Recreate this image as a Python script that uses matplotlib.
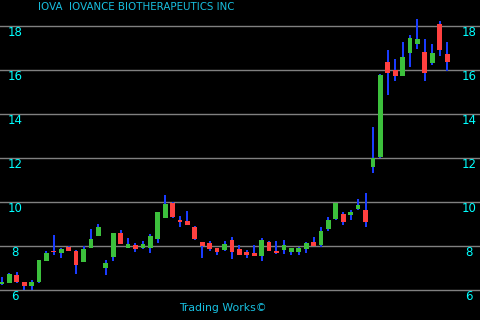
import matplotlib
matplotlib.use("Agg")
import matplotlib.pyplot as plt
import matplotlib.transforms as mtransforms
import numpy as np

title = "IOVA  IOVANCE BIOTHERAPEUTICS INC"
footer = "Trading Works©"
y_ticks = [6, 8, 10, 12, 14, 16, 18]

opens  = [6.26, 6.33, 6.68, 6.36, 6.20, 6.36, 7.32, 7.77, 7.68, 7.95,
          7.77, 7.27, 7.92, 8.47, 7.00, 7.50, 8.59, 7.91, 8.05, 7.91,
          7.92, 8.33, 9.29, 9.95, 9.18, 9.14, 8.86, 8.18, 8.14, 7.91,
          7.82, 8.27, 7.86, 7.73, 7.68, 7.56, 8.18, 7.77, 7.83, 7.74,
          7.74, 7.88, 8.18, 8.05, 8.77, 9.23, 9.45, 9.41, 9.68, 9.64,
          11.61, 12.06, 16.36, 16.00, 15.74, 16.79, 17.20, 16.82, 16.33, 18.09,
          16.73]
highs  = [6.57, 6.76, 6.82, 6.38, 6.45, 7.38, 7.77, 8.50, 7.92, 8.00,
          7.80, 8.00, 8.77, 9.00, 7.36, 8.61, 8.73, 8.36, 8.14, 8.23,
          8.55, 9.56, 10.32, 10.00, 9.36, 9.59, 8.91, 8.20, 8.23, 7.93,
          8.23, 8.39, 8.05, 7.82, 8.05, 8.36, 8.23, 8.23, 8.27, 7.93,
          7.95, 8.18, 8.41, 8.86, 9.32, 9.97, 9.55, 9.64, 10.14, 10.41,
          13.40, 15.80, 16.91, 16.50, 17.27, 17.59, 18.32, 17.41, 17.18, 18.23,
          17.27]
lows   = [6.23, 6.30, 6.33, 5.99, 6.00, 6.34, 7.30, 7.59, 7.45, 7.77,
          6.73, 7.25, 7.90, 8.45, 6.70, 7.32, 8.07, 7.89, 7.73, 7.86,
          7.70, 8.15, 9.27, 9.28, 8.88, 8.95, 8.27, 7.47, 7.77, 7.60,
          7.78, 7.41, 7.59, 7.47, 7.55, 7.33, 7.77, 7.65, 7.65, 7.60,
          7.60, 7.70, 7.98, 7.97, 8.68, 9.20, 8.95, 9.18, 9.64, 8.86,
          11.33, 12.00, 14.86, 15.50, 15.72, 16.14, 16.97, 15.52, 16.23, 16.64,
          15.95]
closes = [6.35, 6.73, 6.36, 6.20, 6.36, 7.36, 7.70, 7.74, 7.86, 7.79,
          7.14, 7.86, 8.32, 8.86, 7.23, 8.59, 8.09, 8.09, 7.86, 8.09,
          8.45, 9.55, 9.91, 9.33, 9.10, 8.97, 8.32, 8.00, 7.86, 7.73,
          8.09, 7.74, 7.61, 7.61, 7.56, 8.27, 7.79, 7.68, 8.05, 7.91,
          7.91, 8.14, 8.00, 8.68, 9.18, 9.95, 9.09, 9.55, 9.86, 9.09,
          11.99, 15.77, 15.88, 15.74, 16.59, 17.45, 17.41, 15.88, 16.77, 16.91,
          16.38]

bg = "#000000"
up_col = "#3cc03c"
down_col = "#ff4040"
wick_col = "#1a3cff"
grid_col = "#808080"
label_col = "#00ffff"
title_col = "#18c0e0"

fig = plt.figure(figsize=(4.8, 3.2), dpi=100, facecolor=bg)
ax = fig.add_axes([0, 0, 1, 1])
ax.set_facecolor(bg)
for s in ax.spines.values():
    s.set_visible(False)
ax.set_xticks([])
ax.set_yticks([])

n = len(opens)
x = np.arange(n)
ax.set_xlim(-0.256, 64.43)
ax.set_ylim(4.636, 19.18)

for yv in y_ticks:
    ax.axhline(yv, color=grid_col, lw=1.0, zorder=1)

o = np.array(opens); c = np.array(closes); h = np.array(highs); l = np.array(lows)
ax.vlines(x, l, h, color=wick_col, lw=1.1, zorder=2, antialiased=False)
up = c >= o
bw = 0.64
ax.bar(x[up], (c - o)[up], bottom=o[up], width=bw, color=up_col, zorder=3,
       linewidth=0, antialiased=False)
ax.bar(x[~up], (o - c)[~up], bottom=c[~up], width=bw, color=down_col, zorder=3,
       linewidth=0, antialiased=False)

off = mtransforms.offset_copy(ax.transData, fig=fig, x=0, y=-7, units='dots')
tl = mtransforms.blended_transform_factory(ax.transAxes, off)
for yv in y_ticks:
    ax.text(15 / 480, yv, str(yv), transform=tl, ha='center', va='center',
            color=label_col, fontsize=8.5, family='DejaVu Sans')
    ax.text(469 / 480, yv, str(yv), transform=tl, ha='center', va='center',
            color=label_col, fontsize=8.5, family='DejaVu Sans')

fig.text(38 / 480, 1 - 7 / 320, title, ha='left', va='center',
         color=title_col, fontsize=7.4, family='DejaVu Sans')
fig.text(223 / 480, 1 - 308 / 320, footer, ha='center', va='center',
         color=title_col, fontsize=7.8, family='DejaVu Sans')

fig.savefig("out.png", dpi=100, facecolor=bg)
